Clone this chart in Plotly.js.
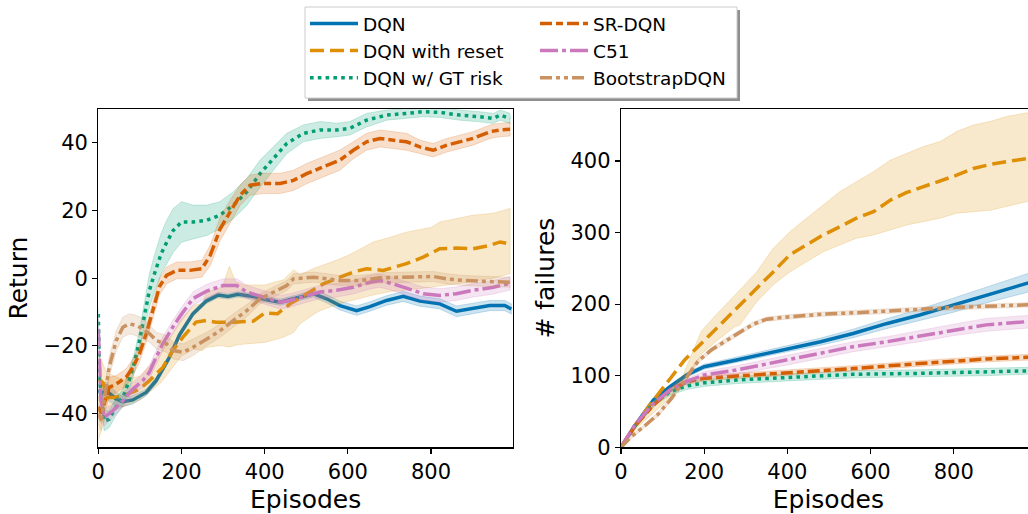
<!DOCTYPE html>
<html><head><meta charset="utf-8">
<script src="https://cdn.plot.ly/plotly-3.0.1.min.js"></script>
<style>html,body{margin:0;padding:0;overflow:hidden;background:#fff}#chart{width:1040px;height:514px}</style>
</head><body><div id="chart"></div><script>
// ---------- series names / colours ----------
const names = ["DQN","DQN with reset","DQN w/ GT risk","SR-DQN","C51","BootstrapDQN"];
const colors = ["#0173b2","#de8f05","#029e73","#d55e00","#cc78bc","#ca9161"];

// ---------- LEFT PANEL: Return ----------
const retDQN_x = [0,6,19,43,59,83,115,139,171,195,227,259,288,312,336,372,405,437,469,517,549,581,621,653,693,733,773,821,861,893,941,977,993];
const retDQN_y = [-33,-34,-33.3,-35.7,-36.5,-36,-33.8,-30.3,-23.4,-16.8,-10.6,-6.8,-5,-5.4,-4.8,-5.4,-6.4,-7.1,-6.1,-4.6,-6.1,-8.1,-9.6,-8.4,-6.6,-5.4,-6.8,-7.6,-9.8,-9.1,-8.1,-8.1,-9.1];
const retDQN_err = [3,3,2.5,2,1.5,1.2,1,1,1,0.9,0.8,0.8,0.8,0.8,0.8,0.8,0.9,0.9,0.9,1,1.2,1.3,1.4,1.4,1.4,1.5,1.5,1.5,1.6,1.6,1.5,1.5,1.5];

const retReset_x = [0,6,12,19,36,60,99,123,155,179,203,235,259,283,324,373,400,431,461,501,541,581,613,645,685,741,781,821,861,901,942,966,986];
const retReset_y = [-30,-30.3,-31,-35.3,-35.3,-34.8,-32.8,-30.3,-26.4,-21.4,-17.5,-13,-12.5,-13,-13,-12.7,-10.3,-10.5,-7.6,-4.6,-1.7,0.3,1.8,2.8,2.3,4.3,6.2,8.7,8.9,8.7,9.7,10.7,10.2];
const retReset_bx = [0,20,60,100,150,200,230,250,260,290,300,315,330,350,400,445,470,485,520,533,581,605,661,700,741,800,821,900,950,990];
const retReset_lo = [-48,-40,-38,-36,-31,-23,-21,-21.4,-20.5,-20,-20,-20.4,-19.8,-19.5,-19,-17.5,-16,-13.5,-10.5,-9.6,-7.5,-6.6,-5,-4,-3.5,-2.7,-2.5,-1,0,1.3];
const retReset_hi = [-22,-28,-30,-29,-22,-12,-8,-7.6,-4,-3,-2,3.5,-1,-2,-2,-0.5,2.5,1,3,3.5,5.7,7,10.7,12,13.6,15,16.6,18.6,19.2,20.6];

const retGT_x = [0,3,14,26,42,59,74,86,99,111,123,135,151,164,180,200,228,261,292,324,357,389,421,453,493,533,573,605,645,693,741,781,821,869,917,950,966,990];
const retGT_y = [-10.6,-30,-42.2,-41.7,-38.2,-35.3,-30.3,-25.4,-18.5,-10.6,-3.6,1.3,7.2,10.5,14.1,16.6,16.6,17.1,18.6,21.5,25.5,30.9,35.4,39.8,42.8,43.8,43.8,44.3,46.7,48.2,48.7,49.2,49,48.2,47.7,47.2,48.2,47.2];
const retGT_err = [2,3,3,2.5,2.5,2.5,3,3,3,4,5,5.5,6,6.5,6.5,6,5,4.5,4,4,4,4,3.5,3,2.5,2.5,2,2,2,1.5,1.5,1.5,1.5,1.5,1.5,1.5,1.5,1.5];

const retSR_x = [0,7,26,43,67,83,99,115,131,147,164,189,220,249,269,293,317,341,365,397,437,469,501,541,581,613,645,677,709,741,773,805,838,870,901,942,966,990];
const retSR_y = [-38,-40,-32.3,-31.3,-29.3,-26.4,-22.4,-16.5,-9.6,-2.5,0.8,2.3,2.3,2.8,6.7,14.6,19.6,24.5,27.5,28,28,28.9,30.9,32.9,34.9,37.8,40.3,41.3,40.8,40.3,38.8,37.8,39.3,40.3,41.3,43.3,43.8,44];
const retSR_err = [3,3,3,2.5,2.5,2.5,2.5,2.5,2.5,2.5,2.5,2.5,2.5,2.5,3,3.5,3.5,3,3,3,3,3,3,3,3,2.5,2.5,2.5,2.5,2.5,2,2,2,2,2,2,2,2];

const retC51_x = [0,6,14,35,59,83,107,123,139,155,179,198,228,261,300,333,357,397,437,461,501,533,573,613,653,677,709,741,781,821,861,901,950,990];
const retC51_y = [-15,-35.3,-41.2,-39.2,-36.2,-32.8,-30.3,-27.8,-23.4,-19.4,-14.5,-11,-6,-3.8,-2.2,-2.2,-4.1,-5.6,-7.1,-6.6,-5.1,-4.1,-3.6,-2.7,-1.2,-0.7,-1.7,-3.1,-4.6,-5.1,-4.6,-3.6,-2.7,-1.5];
const retC51_err = [4,3,2.5,2,2,2,2,2,2,2,2,2,2,2,2,2,2,2,2,2,2,2,2,2,2,2,2,2,2,2,2,2,2,2];

const retBoot_x = [0,7,26,43,59,75,91,108,124,140,164,180,204,228,261,293,325,357,389,421,453,469,517,581,629,677,757,805,838,878,918,990];
const retBoot_y = [-40,-42,-26.4,-18.5,-14.5,-13.5,-14,-15,-16.5,-18.5,-19.4,-21.4,-21.9,-20.4,-18,-15.5,-12.5,-9.6,-6.1,-4.1,-2.2,-0.2,0.3,-0.7,-0.7,0.1,0.3,0.5,-0.2,-0.7,-0.9,-1.2];
const retBoot_err = [3,3,3,3,3,3,3,3,2.5,2.5,2.5,2.5,2.5,2.5,2,2,2,1.8,1.5,1.5,1.5,1.5,1.5,1.5,1.5,1.5,1.5,1.5,1.5,1.5,1.5,1.5];

// ---------- RIGHT PANEL: # failures ----------
const failDQN_x = [0,33,78,118,158,200,278,400,480,558,640,718,800,878,974,999];
const failDQN_y = [0,30,66,84.6,101,112.6,122,138,147.5,159,173,184.8,198.7,212.7,229,233];
const failDQN_err = [0,2,3,3,3,3.5,4,4.5,5,6,7,8,10,11,13,13];

const failReset_x = [0,33,73,113,153,193,233,273,313,366,406,446,486,526,566,607,647,687,727,767,807,847,887,927,975,999];
const failReset_y = [0,30,62,93,122,145,168,190,213,245,269,282.5,296.5,308,320,329,345,356,364,371,380,389.5,395,399,403,405];
const failReset_bx = [0,40,100,150,193,233,273,286,326,366,406,446,486,526,566,607,647,687,727,767,807,847,887,927,975,999];
const failReset_lo = [0,28,60,86,130,150,168,171,203,227,245,259,273,282.5,292,296.5,303.5,310.5,315,320,327,329,331,336,343,345];
const failReset_hi = [0,33,70,102,162,188,212,220,245,278,301,320,338,357,371,385,401,410.6,420,427,441,450,455,462,467,468];

const failGT_x = [0,38,78,118,158,200,278,400,558,718,878,974,999];
const failGT_y = [0,33.5,61.5,77.7,85.6,90,94,97.7,102,103.3,105,107,107];
const failGT_err = [0,3,4,5,5,5,5,5,5,5,5,5,5];

const failSR_x = [0,33,78,118,158,200,278,400,558,718,878,974,999];
const failSR_y = [0,29,59,80,91.6,96.3,99.6,104,110,117,123.3,125.7,126];
const failSR_err = [0,2,3,3,3.5,3.5,4,4,4,4,4,4,4];

const failC51_x = [0,33,78,118,158,200,278,400,478,558,640,718,800,878,974,999];
const failC51_y = [0,31,61.5,80,92,101,108,122,131,140.5,147.5,155.5,164,171,175.4,176];
const failC51_err = [0,2,3,3,4,5,6,7,7,7,7,8,8,9,9,9];

const failBoot_x = [0,25,57,89,121,153,185,217,249,281,318,350,400,486,566,647,727,807,887,975,999];
const failBoot_y = [0,15,30,46,68,95,120,136,148,159,172,179,182,186,188,190,193,195.5,197,199,199.5];
const failBoot_err = [0,2,2,3,3,3,3,3,3,3,3,3,3,3,3,3,3,3,3,3,3];

// ---------- styles ----------
const dashes = ["solid","14px,6px","3.6px,4.2px","12px,4px,7px,4px","18px,4px,4px,4px","12px,4px,4px,4px,4px,4px"];
const LW = 3.5;

function rgba(hex, a){
  const r=parseInt(hex.slice(1,3),16), g=parseInt(hex.slice(3,5),16), b=parseInt(hex.slice(5,7),16);
  return `rgba(${r},${g},${b},${a})`;
}
function bandFromErr(x,y,e){ return {bx:x, lo:y.map((v,i)=>v-e[i]), hi:y.map((v,i)=>v+e[i])}; }

const leftSeries = [
  {x:retDQN_x,y:retDQN_y,...bandFromErr(retDQN_x,retDQN_y,retDQN_err)},
  {x:retReset_x,y:retReset_y,bx:retReset_bx,lo:retReset_lo,hi:retReset_hi},
  {x:retGT_x,y:retGT_y,...bandFromErr(retGT_x,retGT_y,retGT_err)},
  {x:retSR_x,y:retSR_y,...bandFromErr(retSR_x,retSR_y,retSR_err)},
  {x:retC51_x,y:retC51_y,...bandFromErr(retC51_x,retC51_y,retC51_err)},
  {x:retBoot_x,y:retBoot_y,...bandFromErr(retBoot_x,retBoot_y,retBoot_err)}
];
const rightSeries = [
  {x:failDQN_x,y:failDQN_y,...bandFromErr(failDQN_x,failDQN_y,failDQN_err)},
  {x:failReset_x,y:failReset_y,bx:failReset_bx,lo:failReset_lo,hi:failReset_hi},
  {x:failGT_x,y:failGT_y,...bandFromErr(failGT_x,failGT_y,failGT_err)},
  {x:failSR_x,y:failSR_y,...bandFromErr(failSR_x,failSR_y,failSR_err)},
  {x:failC51_x,y:failC51_y,...bandFromErr(failC51_x,failC51_y,failC51_err)},
  {x:failBoot_x,y:failBoot_y,...bandFromErr(failBoot_x,failBoot_y,failBoot_err)}
];

const traces = [];
function addPanel(series, xa, ya, legendOn){
  series.forEach((s,i)=>{
    traces.push({
      type:"scatter", mode:"lines", xaxis:xa, yaxis:ya,
      x: s.bx.concat(s.bx.slice().reverse()),
      y: s.hi.concat(s.lo.slice().reverse()),
      fill:"toself", fillcolor:rgba(colors[i],0.2),
      line:{width:0.8,color:rgba(colors[i],0.25)},
      showlegend:false, hoverinfo:"skip"
    });
    traces.push({
      type:"scatter", mode:"lines", xaxis:xa, yaxis:ya,
      x:s.x, y:s.y, name:names[i],
      line:{color:colors[i], width:LW, dash:dashes[i]},
      showlegend:legendOn, legend: i<3 ? "legend" : "legend2"
    });
  });
}
addPanel(leftSeries,"x","y",true);
addPanel(rightSeries,"x2","y2",false);

const W = 1040, H = 514;
const px = v => v/W, py = v => (H - v)/H;
const font = {family:"DejaVu Sans, sans-serif", color:"#000"};
const axisCommon = {
  showline:true, linecolor:"#000", linewidth:1.2, mirror:true,
  ticks:"outside", ticklen:5, tickwidth:1.2, tickcolor:"#000",
  showgrid:false, zeroline:false,
  tickfont:{...font, size:21}
};
const layout = {
  width:W, height:H, margin:{l:0,r:0,t:0,b:0},
  paper_bgcolor:"#fff", plot_bgcolor:"#fff",
  font:font,
  xaxis:{...axisCommon, domain:[px(98.3),px(513)], range:[0,997], tickvals:[0,200,400,600,800], anchor:"y",
    title:{text:"Episodes", font:{...font,size:25}, standoff:7}},
  yaxis:{...axisCommon, domain:[py(447.3),py(109)], range:[-50,50], tickvals:[-40,-20,0,20,40], anchor:"x",
    title:{text:"Return", font:{...font,size:25}, standoff:8}},
  xaxis2:{...axisCommon, domain:[px(621),px(1035.7)], range:[0,997], tickvals:[0,200,400,600,800], anchor:"y2",
    title:{text:"Episodes", font:{...font,size:25}, standoff:7}},
  yaxis2:{...axisCommon, domain:[py(447.3),py(109)], range:[0,472.5], tickvals:[0,100,200,300,400], anchor:"x2",
    title:{text:"# failures", font:{...font,size:25}, standoff:8}},
  legend:{x:px(305), y:py(5), xanchor:"left", yanchor:"top", bgcolor:"rgba(0,0,0,0)", borderwidth:0,
    font:{...font,size:18.5}, tracegroupgap:0, itemwidth:48},
  legend2:{x:px(535), y:py(5), xanchor:"left", yanchor:"top", bgcolor:"rgba(0,0,0,0)", borderwidth:0,
    font:{...font,size:18.5}, tracegroupgap:0, itemwidth:48},
  shapes:[
    {type:"rect", xref:"paper", yref:"paper", x0:px(308), x1:px(740), y0:py(101), y1:py(10),
      fillcolor:"#8f8f8f", line:{width:0}, layer:"above"},
    {type:"rect", xref:"paper", yref:"paper", x0:px(305), x1:px(737), y0:py(98), y1:py(7),
      fillcolor:"#ffffff", line:{width:1, color:"#cccccc"}, layer:"above"}
  ]
};
Plotly.newPlot("chart", traces, layout, {displayModeBar:false, staticPlot:true});
</script></body></html>
